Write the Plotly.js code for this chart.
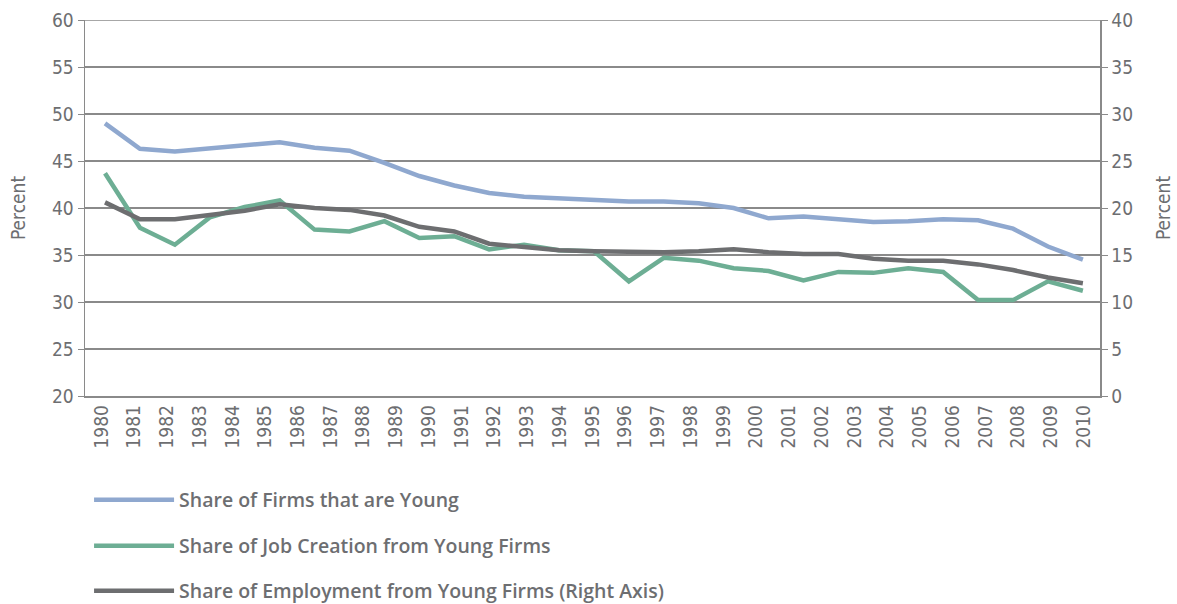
<!DOCTYPE html>
<html>
<head>
<meta charset="utf-8">
<script src="https://cdn.plot.ly/plotly-3.0.1.min.js"></script>
<style>
  body { margin: 0; background: #fff; }
  #plot { width: 1177px; height: 604px; }
</style>
</head>
<body>
<div id="plot"></div>
<script>
// Year labels along the bottom axis
var years = [];
for (var y = 1980; y <= 2010; y++) years.push(y);

// Values (29 points per line)
var firmsYoung = [49.0, 46.3, 46.0, 46.3, 46.6, 47.0, 46.4, 46.1, 44.8, 43.4,
                  42.4, 41.6, 41.2, 41.0, 40.8, 40.7, 40.7, 40.5, 40.0, 38.9,
                  39.1, 38.8, 38.5, 38.6, 38.8, 38.7, 37.8, 35.9, 34.5];
var jobCreation = [43.7, 37.9, 36.1, 39.0, 40.1, 40.8, 37.7, 37.5, 38.6, 36.8,
                   37.0, 35.6, 36.1, 35.5, 35.4, 32.2, 34.7, 34.4, 33.6, 33.3,
                   32.3, 33.2, 33.1, 33.6, 33.2, 30.2, 30.2, 32.2, 31.2];
var employment = [20.6, 18.8, 18.8, 19.3, 19.7, 20.4, 20.0, 19.8, 19.2, 18.0,
                  17.5, 16.2, 15.8, 15.5, 15.4, 15.3, 15.3, 15.4, 15.6, 15.3,
                  15.1, 15.1, 14.6, 14.4, 14.4, 14.0, 13.4, 12.6, 12.0];

var names = ['Share of Firms that are Young',
             'Share of Job Creation from Young Firms',
             'Share of Employment from Young Firms (Right Axis)'];

var gray = '#6d6e71';
var axisGray = '#8a8a8a';
var tickFont = {family: 'DejaVu Sans Condensed, Liberation Sans Narrow, sans-serif', stretch: 'condensed', size: 19, color: gray};
var legendFont = {family: 'Open Sans, sans-serif', size: 19.5, weight: 600, color: gray};

// one legend per series so each row sits where the original puts it
function legendAt(yPos) {
  return {
    x: 0.004, xanchor: 'left', y: yPos, yanchor: 'middle',
    itemwidth: 80,
    bgcolor: 'rgba(0,0,0,0)',
    font: legendFont
  };
}

var data = [
  // empty trace that carries the year axis
  {x: years, y: years.map(function () { return null; }), type: 'scatter', mode: 'lines',
   xaxis: 'x', yaxis: 'y', showlegend: false, hoverinfo: 'skip'},
  {y: firmsYoung, name: names[0], type: 'scatter', mode: 'lines', xaxis: 'x2', yaxis: 'y',
   legend: 'legend', line: {color: '#8fa8cf', width: 4.5}},
  {y: jobCreation, name: names[1], type: 'scatter', mode: 'lines', xaxis: 'x2', yaxis: 'y',
   legend: 'legend2', line: {color: '#6dae94', width: 4.5}},
  {y: employment, name: names[2], type: 'scatter', mode: 'lines', xaxis: 'x2', yaxis: 'y2',
   legend: 'legend3', line: {color: '#6d6e70', width: 4.5}}
];

var layout = {
  width: 1177,
  height: 604,
  margin: {l: 85, r: 77, t: 20, b: 208, autoexpand: false},
  paper_bgcolor: '#fff',
  plot_bgcolor: '#fff',
  showlegend: true,
  legend: legendAt(-0.2766),
  legend2: legendAt(-0.3989),
  legend3: legendAt(-0.5186),
  xaxis: {
    type: 'linear',
    range: [1979.5, 2010.5],
    tickmode: 'array',
    tickvals: years,
    ticktext: years.map(String),
    tickangle: -90,
    tickfont: tickFont,
    showgrid: false,
    zeroline: false,
    showline: true,
    linecolor: axisGray,
    linewidth: 1.5,
    ticks: '',
    automargin: false,
    fixedrange: true
  },
  xaxis2: {
    overlaying: 'x',
    anchor: 'y',
    range: [-0.573, 28.49],
    visible: false,
    fixedrange: true
  },
  yaxis: {
    range: [20, 60],
    dtick: 5,
    tick0: 20,
    tickfont: tickFont,
    title: {text: 'Percent', font: tickFont, standoff: 21},
    showgrid: true,
    gridcolor: axisGray,
    gridwidth: 1.5,
    zeroline: false,
    showline: true,
    linecolor: axisGray,
    linewidth: 1.5,
    ticks: 'outside',
    ticklen: 6,
    tickcolor: axisGray,
    automargin: false,
    fixedrange: true
  },
  yaxis2: {
    overlaying: 'y',
    side: 'right',
    anchor: 'x',
    range: [0, 40],
    dtick: 5,
    tick0: 0,
    tickfont: tickFont,
    title: {text: 'Percent', font: tickFont, standoff: 24},
    showgrid: false,
    zeroline: false,
    showline: true,
    linecolor: axisGray,
    linewidth: 1.5,
    ticks: 'outside',
    ticklen: 6,
    tickcolor: axisGray,
    automargin: false,
    fixedrange: true
  },
  shapes: [
    // top border line at 60
    {type: 'line', xref: 'paper', yref: 'y', x0: 0, x1: 1, y0: 60, y1: 60,
     line: {color: axisGray, width: 1.5}}
  ]
};

Plotly.newPlot('plot', data, layout, {displayModeBar: false, staticPlot: true});
</script>
</body>
</html>
